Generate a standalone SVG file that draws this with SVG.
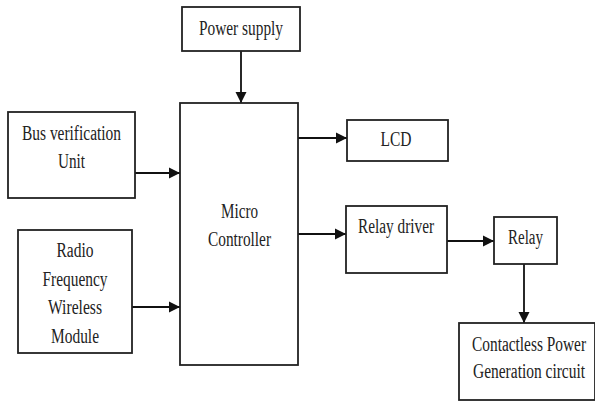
<svg xmlns="http://www.w3.org/2000/svg" width="595" height="405" viewBox="0 0 595 405">
<defs>
<style>
.box{fill:#fff;stroke:#222;stroke-width:1.8}
.t{font-family:'Liberation Serif','Times New Roman','DejaVu Serif',serif;font-size:16px;fill:#222;text-anchor:middle}
.c{stroke:#111;stroke-width:1.8;fill:none}
</style>
<marker id="ah" markerUnits="userSpaceOnUse" markerWidth="12" markerHeight="12" viewBox="0 0 12 12" refX="11" refY="6" orient="auto">
<path d="M0,0.5 L11,6 L0,11.5 Z" fill="#111"/>
</marker>
</defs>
<rect width="595" height="405" fill="#fff"/>
<g id="connectors">
<line class="c" x1="241" y1="51" x2="241" y2="103" marker-end="url(#ah)"/>
<line class="c" x1="135" y1="173" x2="180" y2="173" marker-end="url(#ah)"/>
<line class="c" x1="132" y1="307" x2="180" y2="307" marker-end="url(#ah)"/>
<line class="c" x1="298" y1="138" x2="347" y2="138" marker-end="url(#ah)"/>
<line class="c" x1="298" y1="234" x2="346" y2="234" marker-end="url(#ah)"/>
<line class="c" x1="447" y1="241" x2="494" y2="241" marker-end="url(#ah)"/>
<line class="c" x1="524" y1="264" x2="524" y2="323" marker-end="url(#ah)"/>
</g>
<g id="power">
<rect class="box" x="182" y="7" width="118" height="44"/>
<text class="t" transform="translate(241,35) scale(1,1.25)" textLength="84" lengthAdjust="spacingAndGlyphs">Power supply</text>
</g>
<g id="bus">
<rect class="box" x="8" y="112" width="127" height="86"/>
<text class="t" transform="translate(71.5,140) scale(1,1.25)" textLength="99" lengthAdjust="spacingAndGlyphs">Bus verification</text>
<text class="t" transform="translate(71.5,168) scale(1,1.25)" textLength="27" lengthAdjust="spacingAndGlyphs">Unit</text>
</g>
<g id="micro">
<rect class="box" x="180" y="103" width="118" height="262"/>
<text class="t" transform="translate(239.5,218) scale(1,1.25)" textLength="37" lengthAdjust="spacingAndGlyphs">Micro</text>
<text class="t" transform="translate(239.5,246) scale(1,1.25)" textLength="63" lengthAdjust="spacingAndGlyphs">Controller</text>
</g>
<g id="radio">
<rect class="box" x="18" y="230" width="114" height="123"/>
<text class="t" transform="translate(75,257) scale(1,1.25)" textLength="37" lengthAdjust="spacingAndGlyphs">Radio</text>
<text class="t" transform="translate(75,285.5) scale(1,1.25)" textLength="65" lengthAdjust="spacingAndGlyphs">Frequency</text>
<text class="t" transform="translate(75,314) scale(1,1.25)" textLength="54" lengthAdjust="spacingAndGlyphs">Wireless</text>
<text class="t" transform="translate(75,342.5) scale(1,1.25)" textLength="48" lengthAdjust="spacingAndGlyphs">Module</text>
</g>
<g id="lcd">
<rect class="box" x="347" y="120" width="101" height="41"/>
<text class="t" transform="translate(396,146) scale(1,1.25)" textLength="31" lengthAdjust="spacingAndGlyphs">LCD</text>
</g>
<g id="relaydriver">
<rect class="box" x="346" y="206" width="101" height="67"/>
<text class="t" transform="translate(396,233) scale(1,1.25)" textLength="76" lengthAdjust="spacingAndGlyphs">Relay driver</text>
</g>
<g id="relay">
<rect class="box" x="494" y="217" width="63" height="47"/>
<text class="t" transform="translate(525.5,244) scale(1,1.25)" textLength="35" lengthAdjust="spacingAndGlyphs">Relay</text>
</g>
<g id="contactless">
<rect class="box" x="459" y="323" width="136" height="77"/>
<text class="t" transform="translate(529,351) scale(1,1.25)" textLength="114" lengthAdjust="spacingAndGlyphs">Contactless Power</text>
<text class="t" transform="translate(529,378) scale(1,1.25)" textLength="112" lengthAdjust="spacingAndGlyphs">Generation circuit</text>
</g>
</svg>
